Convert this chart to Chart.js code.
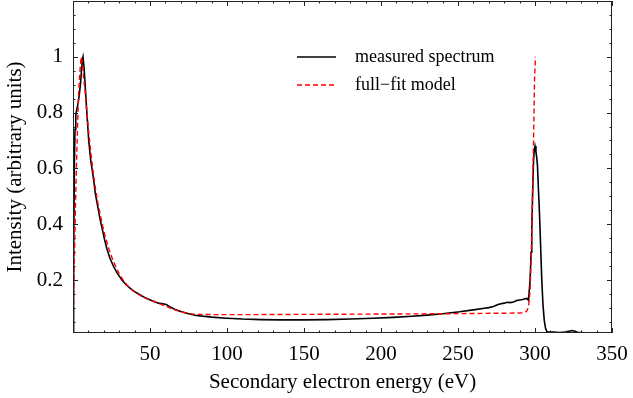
<!DOCTYPE html>
<html>
<head>
<meta charset="utf-8">
<script src="https://cdn.jsdelivr.net/npm/chart.js@4.4.1/dist/chart.umd.min.js"></script>
<style>
  html, body { margin: 0; padding: 0; background: #fff; }
  canvas { display: block; }
</style>
</head>
<body>
<canvas id="spectrumChart" width="633" height="398"></canvas>
<script>
// measured spectrum (black)
const measuredEnergy = [0, 0.4, 0.9, 1.3, 1.8, 2.4, 3.2, 4.0, 4.8, 5.5, 6.1, 6.5, 7.2, 8.0, 9.0, 10.2, 11.5, 13.4, 14.5, 16.0,
  17.5, 18.9, 20.5, 22.1, 24, 26.4, 29, 31.8, 34.5, 37.2, 40, 43.7, 47, 50.2, 53, 55.5, 57.5, 59, 60.5, 62,
  63.5, 66, 70, 75, 80, 90, 100, 110, 122, 135, 150, 165, 180, 195, 208, 220, 230, 240, 251, 260,
  266, 270, 273, 276, 278, 280, 282, 284, 286, 288, 290, 292, 293.5, 294.7, 295.8, 296.8, 297.5, 297.9, 298.5, 299,
  299.5, 300, 300.6, 301.1, 301.6, 302.2, 302.9, 303.6, 304.4, 305.2, 306, 306.8, 307.7, 309, 312, 316, 320, 322, 324, 326,
  328, 331];
const measuredIntensity = [0.0, 0.25, 0.62, 0.74, 0.79, 0.81, 0.83, 0.86, 0.90, 0.95, 0.99, 1.0, 0.96, 0.89, 0.80, 0.70, 0.63, 0.56, 0.51, 0.465,
  0.42, 0.385, 0.345, 0.31, 0.278, 0.248, 0.222, 0.20, 0.183, 0.17, 0.158, 0.146, 0.136, 0.128, 0.122, 0.117, 0.116, 0.114, 0.112, 0.107,
  0.102, 0.095, 0.087, 0.079, 0.073, 0.067, 0.063, 0.060, 0.058, 0.057, 0.057, 0.058, 0.060, 0.063, 0.066, 0.070, 0.074, 0.079, 0.086, 0.093,
  0.098, 0.101, 0.105, 0.112, 0.115, 0.117, 0.120, 0.119, 0.121, 0.126, 0.128, 0.130, 0.133, 0.134, 0.127, 0.20, 0.30, 0.38, 0.52, 0.62,
  0.665, 0.68, 0.66, 0.64, 0.61, 0.53, 0.44, 0.33, 0.20, 0.11, 0.056, 0.028, 0.015, 0.013, 0.013, 0.012, 0.013, 0.016, 0.019, 0.016,
  0.012, 0.012];

// full-fit model (red dashed)
const modelEnergy = [0, 0.8, 1.6, 2.2, 3.0, 3.7, 4.4, 5.3, 6.2, 7.0, 8.0, 9.0, 10.0, 11.5, 13.0, 14.5, 16.0, 17.5, 19.0, 20.5,
  22.0, 24.0, 26.0, 28.0, 30.0, 32.5, 35.0, 37.5, 40.0, 45.0, 50.0, 55.0, 60.0, 65.0, 70.0, 75.0, 80.0, 90.0, 120, 160,
  200, 240, 280, 292, 293.6, 294.8, 295.8, 296.8, 297.6, 298.2, 298.8, 299.3, 299.7, 300.3];
const modelIntensity = [0.0, 0.25, 0.46, 0.60, 0.76, 0.87, 0.94, 1.0, 0.97, 0.92, 0.87, 0.80, 0.74, 0.66, 0.59, 0.53, 0.48, 0.44, 0.40, 0.365,
  0.335, 0.30, 0.27, 0.245, 0.222, 0.20, 0.182, 0.168, 0.157, 0.14, 0.128, 0.118, 0.106, 0.095, 0.086, 0.080, 0.077, 0.076, 0.076, 0.077,
  0.078, 0.079, 0.081, 0.082, 0.083, 0.090, 0.104, 0.16, 0.30, 0.45, 0.62, 0.78, 0.92, 1.0];

const seriesLabels = ["measured spectrum", "full\u2212fit model"];
const xTickValues = [50, 100, 150, 200, 250, 300, 350];
const yTickValues = [0.2, 0.4, 0.6, 0.8, 1];

const serif = "'Liberation Serif', 'Times New Roman', serif";

function toPoints(xs, ys) {
  return xs.map((x, i) => ({ x: x, y: ys[i] }));
}

// cadre + graduations vers l'intérieur (style Mathematica)
const frameTicks = {
  id: "frameTicks",
  afterDatasetsDraw(chart) {
    const { ctx, chartArea: a, scales: { x, y } } = chart;
    ctx.save();
    ctx.strokeStyle = "#222";
    ctx.lineWidth = 1;
    ctx.beginPath();
    for (let k = 0; k <= 35; k++) {
      const px = Math.round(x.getPixelForValue(k * 10)) + 0.5;
      const len = k % 5 === 0 ? 5 : 2.5;
      ctx.moveTo(px, a.bottom); ctx.lineTo(px, a.bottom - len);
      ctx.moveTo(px, a.top); ctx.lineTo(px, a.top + len);
    }
    for (let k = 1; k <= 24; k++) {
      const py = Math.round(y.getPixelForValue(k * 0.05)) + 0.5;
      const len = k % 4 === 0 ? 5 : 2.5;
      ctx.moveTo(a.left, py); ctx.lineTo(a.left + len, py);
      ctx.moveTo(a.right, py); ctx.lineTo(a.right - len, py);
    }
    ctx.stroke();
    ctx.strokeRect(a.left + 0.5, a.top + 0.5, a.width - 1, a.height - 1);
    ctx.restore();
  },
  afterDraw(chart) {
    // légende dans la zone du graphique
    const ctx = chart.ctx;
    const ds = chart.data.datasets;
    const rows = [57, 85];
    ctx.save();
    ctx.font = "18px " + serif;
    ctx.textBaseline = "middle";
    ctx.fillStyle = "#000";
    ds.forEach((d, i) => {
      ctx.strokeStyle = d.borderColor;
      ctx.lineWidth = d.borderWidth;
      ctx.setLineDash(d.borderDash || []);
      ctx.beginPath();
      ctx.moveTo(297, rows[i]);
      ctx.lineTo(336, rows[i]);
      ctx.stroke();
      ctx.fillText(d.label, 355, rows[i]);
    });
    ctx.restore();
  }
};

const ctx = document.getElementById("spectrumChart").getContext("2d");

const spectrumChart = new Chart(ctx, {
  type: "line",
  data: {
    datasets: [
      {
        label: seriesLabels[0],
        data: toPoints(measuredEnergy, measuredIntensity),
        borderColor: "#000000",
        borderWidth: 1.6,
        pointRadius: 0,
        tension: 0,
        order: 1
      },
      {
        label: seriesLabels[1],
        data: toPoints(modelEnergy, modelIntensity),
        borderColor: "#ff0000",
        borderWidth: 1.4,
        borderDash: [5, 3],
        pointRadius: 0,
        tension: 0,
        order: 0
      }
    ]
  },
  options: {
    responsive: false,
    animation: false,
    devicePixelRatio: 1,
    layout: { padding: { left: 0, right: 21, top: 1, bottom: 0 } },
    plugins: { legend: { display: false }, tooltip: { enabled: false } },
    scales: {
      x: {
        type: "linear",
        min: 0,
        max: 350,
        grid: { display: false, drawTicks: false },
        border: { display: false },
        afterBuildTicks: (s) => { s.ticks = xTickValues.map((v) => ({ value: v })); },
        afterFit: (s) => { s.height = 65; s.paddingLeft = 0; s.paddingRight = 0; },
        ticks: {
          padding: 9,
          color: "#000",
          maxRotation: 0,
          autoSkip: false,
          font: { family: serif, size: 21 },
          callback: (v) => String(v)
        },
        title: {
          display: true,
          text: "Secondary electron energy (eV)",
          color: "#000",
          font: { family: serif, size: 21 },
          padding: { top: 0, bottom: 3 }
        }
      },
      y: {
        type: "linear",
        min: 0.01,
        max: 1.2,
        grid: { display: false, drawTicks: false },
        border: { display: false },
        afterBuildTicks: (s) => { s.ticks = yTickValues.map((v) => ({ value: v })); },
        afterFit: (s) => { s.width = 73; s.paddingTop = 0; s.paddingBottom = 0; },
        ticks: {
          padding: 10,
          color: "#000",
          autoSkip: false,
          font: { family: serif, size: 21 },
          callback: (v) => String(v)
        },
        title: {
          display: true,
          text: "Intensity (arbitrary units)",
          color: "#000",
          font: { family: serif, size: 21 },
          padding: { top: 3, bottom: 0 }
        }
      }
    }
  },
  plugins: [frameTicks]
});
</script>
</body>
</html>
